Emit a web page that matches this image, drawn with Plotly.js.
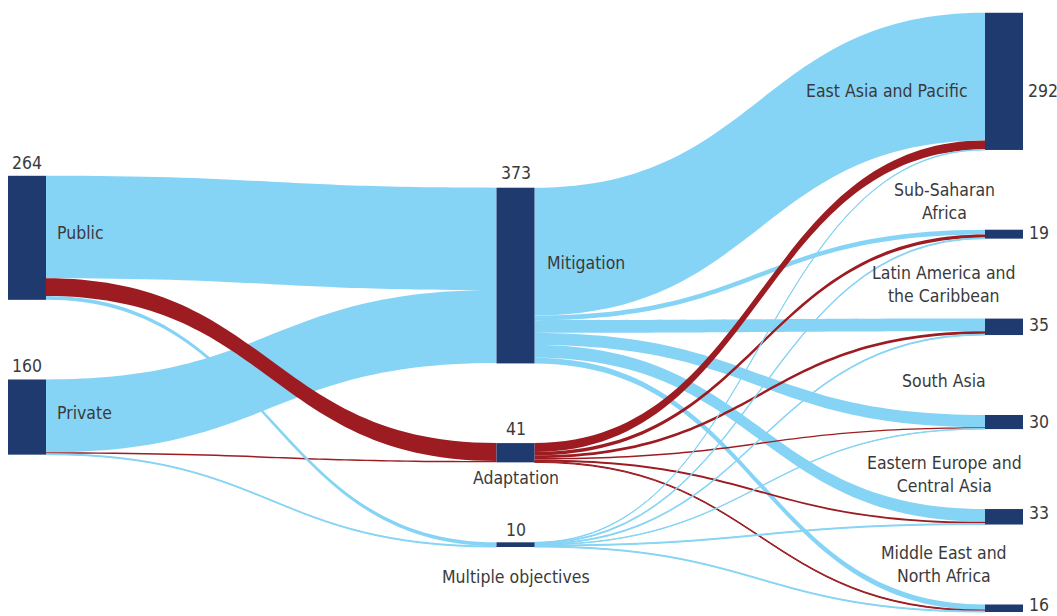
<!DOCTYPE html>
<html><head><meta charset="utf-8">
<script src="https://cdn.plot.ly/plotly-3.0.1.min.js"></script>
<style>html,body{margin:0;padding:0;background:#fff;} #chart{width:1057px;height:616px;}</style>
</head><body><div id="chart"></div>
<script>
// ---- data ----
const nodeNames = ["Public", "Private", "Mitigation", "Adaptation", "Multiple objectives",
  "East Asia and Pacific", "Sub-Saharan<br>Africa", "Latin America and<br>the Caribbean",
  "South Asia", "Eastern Europe and<br>Central Asia", "Middle East and<br>North Africa"];
const nodeTotals = [264, 160, 373, 41, 10, 292, 19, 35, 30, 33, 16];
const linkSources = [0, 1, 0, 1, 0, 1,  2, 2, 2, 2, 2, 2,  3, 3, 3, 3, 3, 3,  4, 4, 4, 4, 4, 4];
const linkTargets = [2, 2, 3, 3, 4, 4,  5, 6, 7, 8, 9, 10, 5, 6, 7, 8, 9, 10, 5, 6, 7, 8, 9, 10];
const linkValues  = [218, 155, 38, 3, 8, 2,  272, 10, 27, 26, 27, 12,  19, 7, 6, 3, 4, 2,  1, 2, 2, 1, 2, 2];

// ---- layout / styles ----
const W = 1057, H = 616;
const MARGIN = {l: 8, r: 34, t: 13, b: 4};
const PAD = 80, THICK = 38;
const colTopPx = [163, 175, 0];          // vertical start of each column (px inside the plot area)
const NAVY = "#1f3a6f", BLUE = "#86d4f5", RED = "#9c1c21", TXT = "#3a3a3a";
const FONT = "'DejaVu Sans Condensed', 'Liberation Sans Narrow', sans-serif";
const FS = 17.5;
// label placement relative to node: [anchor, dx, dy] in px
const namePlace = [
  ["right", 10, -5], ["right", 10, -4], ["right", 11, -13], ["below", 0, 16], ["below", 0, 30],
  ["left", -16, 10], ["aboveR", -41, -28], ["aboveR", -41, -34], ["aboveR", -41, -34], ["aboveR", -41, -35], ["aboveR", -41, -40]
];
const valuePlace = [
  ["top", 0, -13], ["top", 0, -13], ["top", 0, -15], ["top", 0, -14], ["top", 0, -12],
  ["rightv", 4, 10], ["rightv", 5, -1], ["rightv", 5, -2], ["rightv", 5, 0], ["rightv", 5, -4], ["rightv", 5, -3]
];

// ---- derive columns and node values from links ----
const n = nodeNames.length;
const depth = new Array(n).fill(0);
for (let it = 0; it < n; it++) linkSources.forEach((s, i) => { depth[linkTargets[i]] = Math.max(depth[linkTargets[i]], depth[s] + 1); });
const nCols = Math.max(...depth) + 1;
const inSum = new Array(n).fill(0), outSum = new Array(n).fill(0);
linkValues.forEach((v, i) => { outSum[linkSources[i]] += v; inSum[linkTargets[i]] += v; });
const nodeVal = inSum.map((v, i) => Math.max(v, outSum[i]));
const pw = W - MARGIN.l - MARGIN.r, ph = H - MARGIN.t - MARGIN.b;
let ky = Infinity;
for (let c = 0; c < nCols; c++) {
  const ids = [...Array(n).keys()].filter(i => depth[i] === c);
  const tot = ids.reduce((a, i) => a + nodeVal[i], 0);
  ky = Math.min(ky, (ph - (ids.length - 1) * PAD) / tot);
}
const nodeX = [], nodeY = [];
const cursor = colTopPx.slice();
for (let i = 0; i < n; i++) {
  const c = depth[i];
  const hgt = nodeVal[i] * ky;
  nodeX[i] = (c * (pw - THICK) / (nCols - 1) + THICK / 2) / pw;
  nodeY[i] = (cursor[c] + hgt / 2) / ph;
  cursor[c] += hgt + PAD;
}

function linkColor(s, t) { return (s === 3 || t === 3) ? RED : BLUE; }

const gd = document.getElementById("chart");
const data = [{
  type: "sankey",
  arrangement: "fixed",
  node: {
    label: nodeNames.map(() => ""),
    pad: PAD, thickness: THICK,
    x: nodeX, y: nodeY,
    color: nodeNames.map(() => NAVY),
    line: {width: 0}
  },
  link: {
    source: linkSources, target: linkTargets, value: linkValues,
    color: linkSources.map((s, i) => linkColor(s, linkTargets[i])),
    line: {width: 0}
  },
  hoverinfo: "none"
}];
const layout = {
  width: W, height: H, margin: MARGIN,
  paper_bgcolor: "#fff",
  font: {family: FONT, size: FS, color: TXT},
  showlegend: false
};

Plotly.newPlot(gd, data, layout, {staticPlot: true, displayModeBar: false}).then(() => {
  const size = gd._fullLayout._size;
  const gb = gd.getBoundingClientRect();
  const rects = {};
  gd.querySelectorAll(".sankey-node").forEach((g, i) => {
    const d = g.__data__;
    let idx = i;
    if (d && d.node) idx = (d.node.pointNumber !== undefined ? d.node.pointNumber : d.node.index);
    const r = (g.querySelector(".node-rect") || g).getBoundingClientRect();
    rects[idx] = {x0: r.left - gb.left, x1: r.right - gb.left, y0: r.top - gb.top, y1: r.bottom - gb.top};
  });
  const px = x => (x - size.l) / size.w;
  const py = y => 1 - (y - size.t) / size.h;
  const anns = [];
  function add(text, x, y, xa, ya, align) {
    anns.push({text, x: px(x), y: py(y), xref: "paper", yref: "paper", xanchor: xa, yanchor: ya,
      align: align || "center", showarrow: false, borderpad: 0,
      font: {family: FONT, size: FS, color: TXT}});
  }
  nodeNames.forEach((name, i) => {
    const r = rects[i]; if (!r) return;
    const cx = (r.x0 + r.x1) / 2, cy = (r.y0 + r.y1) / 2;
    const [na, ndx, ndy] = namePlace[i];
    if (na === "right") add(name, r.x1 + ndx, cy + ndy, "left", "middle", "left");
    else if (na === "left") add(name, r.x0 + ndx, cy + ndy, "right", "middle", "right");
    else if (na === "below") add(name, cx + ndx, r.y1 + ndy, "center", "middle");
    else if (na === "aboveR") add(name, r.x0 + ndx, r.y0 + ndy, "center", "middle");
    const [va, vdx, vdy] = valuePlace[i];
    const vt = String(nodeTotals[i]);
    if (va === "top") add(vt, cx + vdx, r.y0 + vdy, "center", "middle");
    else add(vt, r.x1 + vdx, cy + vdy, "left", "middle", "left");
  });
  return Plotly.relayout(gd, {annotations: anns});
});
</script>
</body></html>
